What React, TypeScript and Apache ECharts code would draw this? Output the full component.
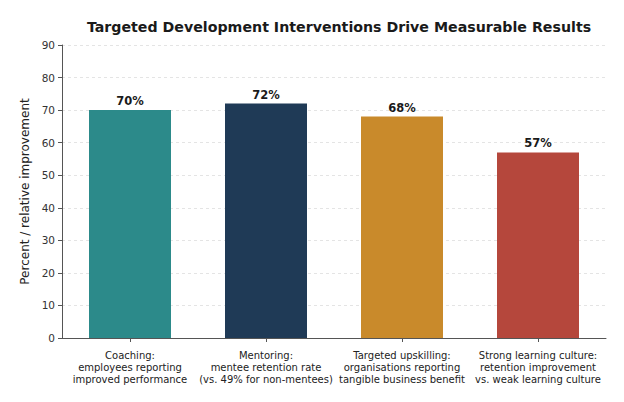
import React, { useEffect, useRef } from "react";
import * as echarts from "echarts";

const categories = [
  "Coaching:\nemployees reporting\nimproved performance",
  "Mentoring:\nmentee retention rate\n(vs. 49% for non-mentees)",
  "Targeted upskilling:\norganisations reporting\ntangible business benefit",
  "Strong learning culture:\nretention improvement\nvs. weak learning culture",
];
const values = [70, 72, 68, 57];
const colors = ["#2C8A8A", "#1F3A56", "#C98A2B", "#B5473C"];
const titleText = "Targeted Development Interventions Drive Measurable Results";
const yName = "Percent / relative improvement";

const FONT = "DejaVu Sans";

export default function App() {
  const ref = useRef<HTMLDivElement>(null);
  useEffect(() => {
    document.body.style.margin = "0";
    if (!ref.current) return;
    const chart = echarts.init(ref.current, null, { renderer: "svg" });
    chart.setOption({
      animation: false,
      backgroundColor: "#ffffff",
      title: {
        text: titleText,
        left: 334,
        textAlign: "center",
        top: 15,
        textStyle: { fontFamily: FONT, fontSize: 14.2, fontWeight: "bold", color: "#1a1a1a" },
      },
      grid: { left: 62, right: 18, top: 45, bottom: 64 },
      xAxis: {
        type: "category",
        data: categories,
        boundaryGap: true,
        axisLine: { show: true, lineStyle: { color: "#555", width: 1 } },
        axisTick: { show: true, alignWithLabel: true, length: 4, lineStyle: { color: "#555" } },
        axisLabel: {
          interval: 0,
          margin: 11,
          fontFamily: FONT,
          fontSize: 10,
          lineHeight: 12,
          color: "#222",
        },
      },
      yAxis: {
        type: "value",
        min: 0,
        max: 90,
        interval: 10,
        name: yName,
        nameLocation: "middle",
        nameGap: 25,
        nameTextStyle: { fontFamily: FONT, fontSize: 12, color: "#222" },
        axisLine: { show: true, lineStyle: { color: "#555", width: 1 } },
        axisTick: { show: true, length: 4, lineStyle: { color: "#555" } },
        axisLabel: { fontFamily: FONT, fontSize: 10.5, color: "#333", margin: 7 },
        splitLine: { show: true, lineStyle: { color: "#dddddd", type: [3, 3], width: 0.8 } },
      },
      series: [
        {
          type: "bar",
          barWidth: 82,
          data: values.map((v, i) => ({ value: v, itemStyle: { color: colors[i] } })),
          label: {
            show: true,
            position: "top",
            distance: 3,
            formatter: (p: any) => `${p.value}%`,
            fontFamily: FONT,
            fontSize: 11.5,
            fontWeight: "bold",
            color: "#1a1a1a",
          },
        },
      ],
    });
    return () => chart.dispose();
  }, []);
  return <div ref={ref} style={{ width: 624, height: 402 }} />;
}
